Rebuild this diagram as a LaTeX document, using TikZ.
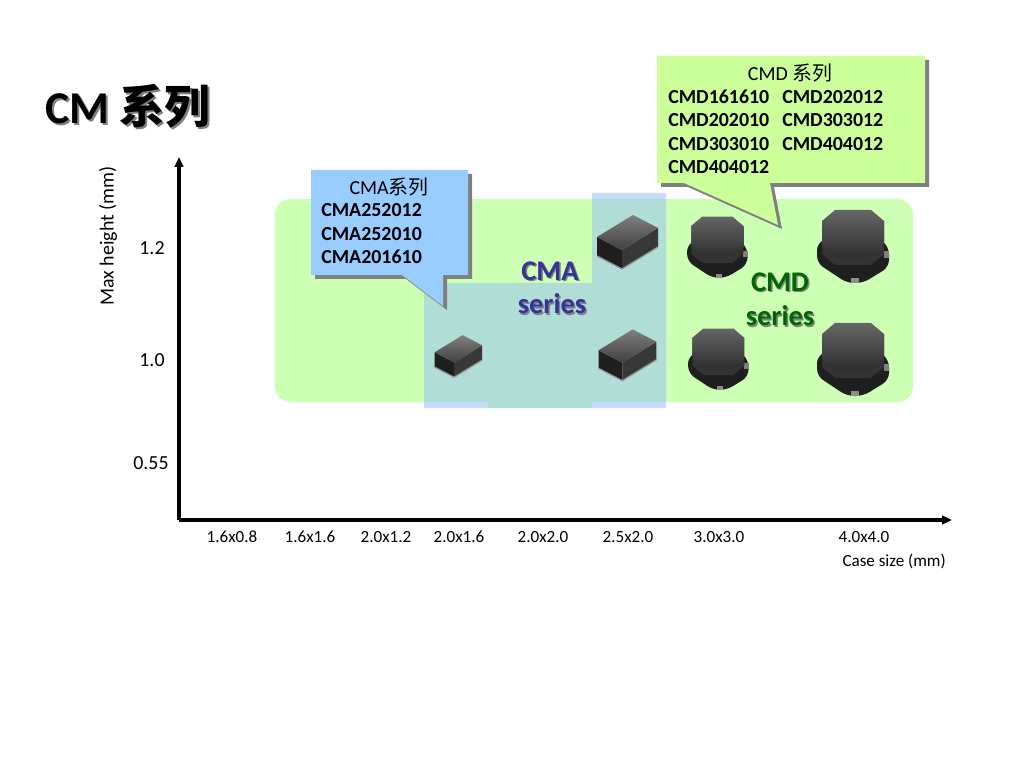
\documentclass[tikz,border=0pt]{standalone}
\usepackage{fontspec}
\setmainfont{Carlito}
\newfontfamily\cjk{Noto Sans CJK SC}
\usetikzlibrary{arrows.meta}
\definecolor{bggreen}{RGB}{205,255,180}
\definecolor{ovblue}{RGB}{151,192,245}
\definecolor{cmablue}{RGB}{153,204,255}
\definecolor{cmdgreen}{RGB}{204,255,153}
\definecolor{seriesblue}{RGB}{51,51,153}
\definecolor{seriesgreen}{RGB}{0,102,0}
\definecolor{shadowgray}{RGB}{128,128,128}
\tikzset{
  txt/.style={inner sep=0pt, font=\fontsize{14}{16}\selectfont},
  boldtxt/.style={inner sep=0pt, anchor=west, font=\fontsize{14}{16}\selectfont\bfseries},
  xlab/.style={inner sep=0pt, font=\fontsize{12}{14}\selectfont},
  ylab/.style={inner sep=0pt, font=\fontsize{14}{16}\selectfont},
  serieslab/.style={inner sep=0pt, font=\fontsize{20}{22}\selectfont\bfseries},
  axisline/.style={line width=2.4pt, -{Triangle[length=7pt,width=6pt]}},
  chip/.pic={
    \fill[black!88] (-30,-6) -- (-5,7) -- (-5,26) -- (-30,13) -- cycle;
    \fill[black!78] (-5,7) -- (31,-15) -- (31,4) -- (-5,26) -- cycle;
    \shade[top color=black!50, bottom color=black!75] (-30,-6) -- (6,-28) -- (31,-15) -- (-5,7) -- cycle;
    \draw[black!40, line width=0.9pt] (-30,13) -- (-5,26) -- (31,4);
  },
  inductor/.pic={
    \fill[black!88, rounded corners=5pt] (-38,-2) -- (-38,18) -- (-8,38) -- (8,38) -- (34,22) -- (34,2) -- (20,-10) -- (-20,-10) -- cycle;
    \fill[black!50] (29,6) rectangle (34,13);
    \fill[black!45] (-4,33) rectangle (4,38);
    \fill[black!80] (-33,-24) -- (-33,9) -- (-20,20) -- (16,20) -- (29,9) -- (29,-24) -- cycle;
    \shade[top color=black!60, bottom color=black!82] (-20,-35) -- (16,-35) -- (29,-24) -- (29,1) -- (16,12) -- (-20,12) -- (-33,1) -- (-33,-24) -- cycle;
  }
}
\begin{document}
\begin{tikzpicture}[x=0.703125pt, y=-0.703125pt]
\useasboundingbox (0,0) rectangle (1024,768);
\fill[white] (0,0) rectangle (1024,768);

% title
\node[inner sep=0pt, anchor=west, text=shadowgray, font=\fontsize{32}{36}\selectfont\bfseries] at (47,108) {CM \cjk{系列}};
\node[inner sep=0pt, anchor=west, font=\fontsize{32}{36}\selectfont\bfseries] (title) at (45,106) {CM \cjk{系列}};

% green background region
\fill[bggreen, rounded corners=11pt] (275,199) rectangle (913,402);
\fill[bggreen] (488,390) rectangle (592,408);
% blue overlay (CMA series)
\fill[ovblue, opacity=0.53] (424,283) -- (592,283) -- (592,193) -- (666,193) -- (666,408) -- (424,408) -- cycle;

% CMA chips
\pic[scale=0.78] at (458,357) {chip};
\pic at (627,243) {chip};
\pic[scale=0.95] at (627,356) {chip};

% CMD inductors
\pic[scale=0.84] at (719,246) {inductor};
\pic at (855,245) {inductor};
\pic[scale=0.84] at (720,358) {inductor};
\pic at (855,358) {inductor};

% axes
\coordinate (origin) at (179,520);
\coordinate (ytop) at (179,157);
\coordinate (xend) at (952,520);
\draw[axisline] (origin) -- (ytop);
\draw[axisline] (origin) -- (xend);

% y ticks
\node[ylab] (t12) at (152,248) {1.2};
\node[ylab] (t10) at (152,360) {1.0};
\node[ylab] (t055) at (151,463) {0.55};
\node[ylab, rotate=90] (ytitle) at (108,236) {Max height (mm)};

% x labels
\node[xlab] (x1) at (232,537) {1.6x0.8};
\node[xlab] (x2) at (310,537) {1.6x1.6};
\node[xlab] (x3) at (386,537) {2.0x1.2};
\node[xlab] (x4) at (459,537) {2.0x1.6};
\node[xlab] (x5) at (543,537) {2.0x2.0};
\node[xlab] (x6) at (628,537) {2.5x2.0};
\node[xlab] (x7) at (719,537) {3.0x3.0};
\node[xlab] (x8) at (864,537) {4.0x4.0};
\node[xlab, anchor=east] (xtitle) at (946,561) {Case size (mm)};

% series labels
\node[serieslab, text=shadowgray] at (551.5,272.5) {CMA};
\node[serieslab, text=seriesblue] (cma1) at (550,271) {CMA};
\node[serieslab, text=shadowgray] at (553.5,305.5) {series};
\node[serieslab, text=seriesblue] (cma2) at (552,304) {series};
\node[serieslab, text=shadowgray] at (781.5,283.5) {CMD};
\node[serieslab, text=seriesgreen] (cmd1) at (780,282) {CMD};
\node[serieslab, text=shadowgray] at (781.5,317.5) {series};
\node[serieslab, text=seriesgreen] (cmd2) at (780,316) {series};

% CMA callout
\fill[shadowgray, shift={(4,4)}] (311,170) -- (468,170) -- (468,275) -- (443,275) -- (443,306) -- (402,275) -- (311,275) -- cycle;
\fill[cmablue] (311,170) -- (468,170) -- (468,275) -- (443,275) -- (443,306) -- (402,275) -- (311,275) -- cycle;
\node[txt] (cmah) at (389,187) {CMA\cjk{系列}};
\node[boldtxt] (cma_a) at (321,210) {CMA252012};
\node[boldtxt] (cma_b) at (321,234) {CMA252010};
\node[boldtxt] (cma_c) at (321,257) {CMA201610};

% CMD callout
\fill[shadowgray, shift={(4,4)}] (657,56) -- (925,56) -- (925,183) -- (770,183) -- (778,225) -- (684,183) -- (657,183) -- cycle;
\fill[cmdgreen] (657,56) -- (925,56) -- (925,183) -- (770,183) -- (778,225) -- (684,183) -- (657,183) -- cycle;
\node[txt] (cmdh) at (790,73) {CMD \cjk{系列}};
\node[boldtxt] (cmd_a) at (668,97) {CMD161610};
\node[boldtxt] (cmd_b) at (782,97) {CMD202012};
\node[boldtxt] (cmd_c) at (668,120) {CMD202010};
\node[boldtxt] (cmd_d) at (782,120) {CMD303012};
\node[boldtxt] (cmd_e) at (668,144) {CMD303010};
\node[boldtxt] (cmd_f) at (782,144) {CMD404012};
\node[boldtxt] (cmd_g) at (668,167) {CMD404012};
\end{tikzpicture}
\end{document}
